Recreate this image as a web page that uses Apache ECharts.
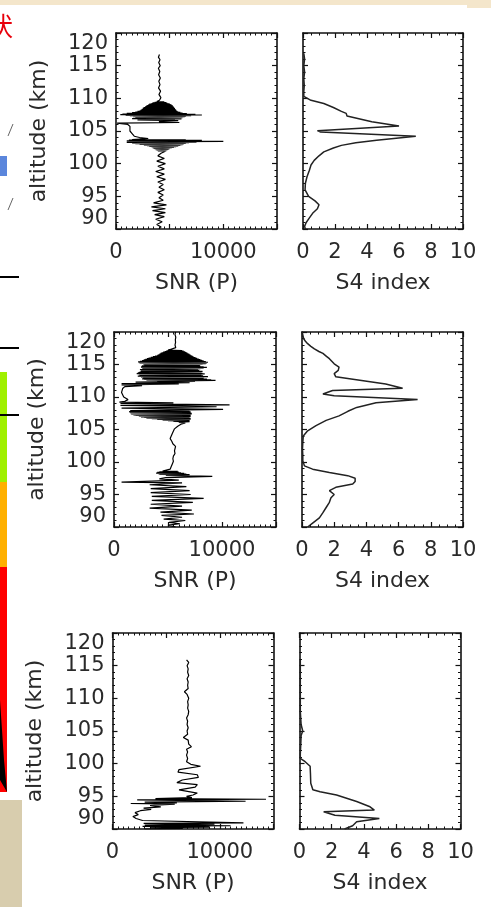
<!DOCTYPE html>
<html><head><meta charset="utf-8">
<script src="https://cdn.jsdelivr.net/npm/echarts@6/dist/echarts.min.js"></script>
<style>html,body{margin:0;padding:0;background:#fff}#c{width:491px;height:907px}</style>
</head><body><div id="c"></div><script>
// ---- tick labels ----
const altRange = [90, 120];
const snrLabelValues = [0, 10000];
const s4LabelValues = [0, 2, 4, 6, 8, 10];
const panelXNames = ['SNR (P)', 'S4 index'];
const yName = 'altitude (km)';

// ---- profiles: [altitude km, value] ----
const p1snr = [[116.7,4050],[116.3,3950],[115.9,4100],[115.5,3980],[115.0,4120],[114.6,3950],[114.1,4080],[113.6,3970],[113.1,4130],[112.6,3990],[112.1,4100],[111.6,3960],[111.1,4150],[110.6,4000],[110.1,4180],[109.7,4050],
[109.5,3800],[109.45,4500],[109.4,3600],[109.35,4700],[109.3,3400],[109.25,4800],[109.2,3300],[109.15,5000],[109.1,3100],[109.05,5100],[109.0,3000],[108.95,5200],[108.9,2900],[108.85,5300],[108.8,2800],[108.75,5300],[108.7,2700],[108.65,5400],[108.6,2600],[108.55,5400],[108.5,2500],[108.45,5500],[108.4,2500],[108.35,5500],[108.3,2400],[108.25,5600],[108.2,2300],[108.15,5600],[108.1,2200],[108.05,5700],[108.0,2000],[107.95,5800],[107.9,1800],[107.85,6000],[107.8,1500],[107.75,6200],[107.7,1000],[107.65,6600],[107.6,600],[107.55,7400],[107.5,400],[107.45,8000],[107.4,900],[107.35,7000],[107.3,1300],[107.25,6500],[107.2,1600],[107.15,6400],[107.1,1800],[107.05,6200],[107.0,2200],[106.95,6000],[106.9,1500],[106.85,6100],[106.8,2500],[106.75,5500],[106.7,2000],[106.6,5800],[106.45,4000],[106.3,5900],[106.2,100],
[106.0,1100],[105.7,1300],[105.4,1200],[105.0,1300],[104.6,1500],[104.2,1700],[104.0,2200],[103.85,3000],
[103.7,1500],[103.65,6500],[103.6,1200],[103.55,8000],[103.5,1000],[103.4,10000],[103.35,1200],[103.3,7500],[103.25,1000],[103.2,6800],[103.15,1500],[103.1,6500],[103.05,1800],[103.0,6300],[102.95,2200],[102.9,6200],[102.85,2600],[102.8,6000],[102.75,2900],[102.7,5800],[102.65,3100],[102.6,5600],[102.55,3300],[102.5,5400],[102.45,3400],[102.4,5200],[102.35,3500],[102.3,5000],[102.25,3600],[102.2,4900],[102.15,3700],[102.1,4800],[102.05,3800],[102.0,4700],[101.95,3900],[101.9,4600],
[101.6,4200],[101.2,3900],[100.8,4500],[100.4,3800],[100.0,4600],[99.6,3900],[99.2,4500],[98.8,3700],[98.4,4500],[98.0,3800],[97.6,4600],[97.2,3900],[96.8,4400],[96.4,4000],[96.0,4500],[95.6,3900],[95.2,4400],[94.8,4000],[94.4,4400],[94.0,3500],[93.7,4700],[93.4,3300],[93.1,4600],[92.8,3400],[92.5,4600],[92.2,3600],[91.9,4500],[91.5,3700],[91.1,4300],[90.7,3800],[90.3,4200],[90.05,4000]];

const p1s4 = [[116.9,0.05],[116.0,0.1],[115.0,0.05],[114.0,0.1],[113.0,0.05],[112.0,0.08],[111.0,0.05],[110.3,0.05],[110.0,0.05],[109.7,0.5],[109.2,1.3],[108.6,1.9],[108.0,2.4],[107.7,2.7],[107.3,2.75],[107.0,2.8],[106.4,4.3],[105.75,6.0],[105.05,0.9],[104.85,1.1],[104.2,7.05],[103.6,4.6],[103.2,3.3],[102.8,2.4],[102.4,1.9],[101.8,1.3],[101.2,1.0],[100.5,0.7],[99.8,0.5],[99.0,0.4],[98.0,0.25],[97.0,0.15],[96.0,0.13],[95.0,0.35],[94.3,0.75],[93.7,1.0],[93.1,0.9],[92.4,0.6],[91.7,0.4],[91.0,0.2],[90.4,0.1],[90.0,0.15]];

const p2snr = [[120.0,5700],[119.6,5650],[119.2,5720],[118.8,5680],[118.4,5700],[118.0,5650],[117.6,5720],[117.3,5700],
[117.2,5000],[117.15,6300],[117.1,4850],[117.05,6450],[117.0,4700],[116.95,6600],[116.9,4550],[116.85,6700],[116.8,4400],[116.75,6800],[116.7,4300],[116.65,6900],[116.6,4200],[116.55,7000],[116.5,4100],[116.45,7100],[116.4,4000],[116.35,7200],[116.3,3800],[116.25,7300],[116.2,3600],[116.15,7400],[116.1,3400],[116.05,7550],[116.0,3200],[115.95,7700],[115.9,3050],[115.85,7850],[115.8,2900],[115.75,8000],[115.7,2750],[115.65,8150],[115.6,2600],[115.55,8300],[115.5,2400],[115.45,8500],[115.4,2230],[115.35,8700],[115.3,2300],[115.25,8600],[115.2,2400],[115.15,8500],[115.1,2700],[115.05,8200],[115.0,3000],[114.95,7900],[114.9,2800],[114.85,7950],[114.8,2600],[114.75,8000],[114.7,2550],[114.65,8300],[114.6,2500],[114.55,8600],[114.5,2650],[114.45,8300],[114.4,2800],[114.35,8000],[114.3,2600],[114.25,7800],[114.2,2400],[114.15,7600],[114.1,2500],[114.05,7900],[114.0,2600],[113.95,8200],[113.9,2450],[113.85,8100],[113.8,2300],[113.75,8000],[113.7,2200],[113.65,8200],[113.6,2100],[113.55,8400],[113.5,2300],[113.45,8100],[113.4,2500],[113.35,7800],[113.3,2350],[113.25,8250],[113.2,2200],[113.15,8700],[113.1,2500],[113.05,8350],[113.0,2800],[112.95,8000],[112.9,2700],[112.85,8300],[112.8,2600],[112.75,8600],[112.7,2800],[112.65,9000],[112.6,3000],[112.55,9400],[112.45,4000],[112.4,7500],[112.3,2000],[112.2,7000],[112.05,700],[112.0,6000],[111.85,700],[111.75,2600],[111.6,1000],[111.3,800],[111.0,850],[110.7,700],[110.4,800],[110.0,900],[109.6,1300],[109.35,1000],
[109.2,500],[109.1,5500],[109.0,600],[108.8,10700],[108.7,600],[108.5,9500],[108.3,700],[108.1,10100],[107.9,1500],
[107.8,7000],[107.75,1400],[107.7,7100],[107.65,1450],[107.6,7100],[107.55,1500],[107.5,7200],[107.45,1550],[107.4,7200],[107.35,1600],[107.3,7100],[107.25,1800],[107.2,7000],[107.15,2000],[107.1,7100],[107.05,2300],[107.0,7100],[106.95,2500],[106.9,7000],[106.85,2800],[106.8,7000],[106.75,3000],[106.7,7100],[106.65,3500],[106.6,7100],[106.55,4000],[106.5,7000],[106.45,4500],[106.4,7000],[106.35,5000],[106.3,7000],[106.25,5500],[106.2,7000],[106.1,6000],[106.0,6600],
[105.8,6200],[105.5,5900],[105.1,5600],[104.8,5500],[104.4,5400],[104.0,5300],[103.6,5200],[103.2,5350],[102.8,5450],[102.4,5700],[102.1,5800],[101.7,5600],[101.3,5650],[100.9,5500],[100.5,5450],[100.1,5500],[99.7,5400],[99.3,5300],[98.9,5200],[98.7,5100],
[98.6,4500],[98.55,5900],[98.5,4200],[98.45,6000],[98.4,4000],[98.35,6200],[98.3,3900],[98.25,6500],[98.2,4100],[98.15,6700],[98.1,4200],[98.05,7000],[97.95,4800],[97.8,9100],[97.6,4800],[97.4,4200],[97.2,6000],[97.05,3500],[96.9,700],[96.8,6300],
[96.5,3300],[96.2,6700],[95.9,3400],[95.6,7000],[95.3,3400],[95.0,7100],[94.7,3500],[94.4,8300],[94.1,3500],[93.8,7300],[93.5,3400],[93.2,6300],[92.9,3300],[92.6,7200],[92.3,4300],[92.0,7400],[91.8,4400],[91.5,6300],[91.2,4600],[91.0,6600],[90.7,5100],[90.5,6100],[90.3,5000],[90.0,5700]];

const p2s4 = [[120.0,0.0],[119.5,0.05],[119.0,0.1],[118.6,0.2],[118.2,0.35],[117.8,0.55],[117.4,0.77],[117.0,1.05],[116.7,1.3],[116.3,1.5],[115.9,1.7],[115.5,1.85],[115.1,2.0],[114.6,2.3],[114.1,2.25],[113.6,2.0],[113.1,2.1],[112.8,2.95],[112.0,5.2],[111.35,6.25],[111.0,1.9],[110.45,1.3],[110.2,2.0],[109.6,7.18],[109.1,4.6],[108.4,3.4],[107.8,2.85],[107.1,2.3],[106.4,1.5],[105.6,0.87],[104.8,0.35],[104.0,0.08],[103.0,0.05],[102.0,0.03],[101.0,0.05],[100.2,0.05],[99.4,0.15],[98.9,0.66],[98.4,1.7],[97.9,2.84],[97.5,3.3],[97.0,3.3],[96.6,3.15],[96.1,2.1],[95.6,1.7],[95.0,2.0],[94.5,1.8],[93.8,1.7],[93.0,1.5],[92.2,1.3],[91.4,1.08],[90.6,0.66],[90.0,0.35]];

const p3snr = [[115.9,6900],[115.5,7100],[115.0,6950],[114.5,7050],[114.0,7000],[113.5,7100],[113.0,6950],[112.5,7050],[112.0,7000],[111.5,7050],[111.0,6700],[110.6,6950],[110.0,7100],[109.5,7000],[109.0,7050],[108.5,7000],[108.0,7100],[107.5,7050],[107.0,6900],[106.5,7000],[106.0,6950],[105.5,7050],[105.0,6950],[104.5,7000],[104.0,6600],[103.6,7050],[103.0,7100],[102.6,7350],[102.2,6900],[101.8,7000],[101.3,6900],[100.8,7000],[100.3,6900],
[99.9,7300],[99.6,8200],[99.1,6200],[98.7,6100],[98.3,7900],[97.9,8000],[97.5,6500],[97.1,6000],[96.8,7900],[96.4,7700],[96.0,6200],[95.8,6300],[95.5,7900],[95.2,7500],[95.0,6900],[94.8,7400],[94.65,4000],[94.55,14300],[94.45,2300],[94.35,8000],[94.25,12400],[94.1,3000],[94.0,6000],[93.9,1700],[93.8,5800],[93.6,3500],[93.4,4500],[93.2,2900],[93.0,3600],[92.8,2600],[92.5,2100],[92.2,2400],[91.9,1900],[91.6,2200],[91.3,2800],[91.1,2900],[90.95,12200],[90.85,2900],[90.75,9500],[90.6,3000],[90.5,11000],[90.4,2800],[90.3,9000],[90.2,3500],[90.1,6500],[90.0,3000]];

const p3s4 = [[115.9,0.05],[114.0,0.05],[112.0,0.05],[110.0,0.05],[108.0,0.05],[106.0,0.1],[105.0,0.2],[104.3,0.1],[103.0,0.08],[101.5,0.05],[100.8,0.05],[100.3,0.35],[99.6,0.66],[98.5,0.68],[97.0,0.7],[96.0,0.83],[95.7,1.28],[95.2,2.3],[94.2,3.55],[93.4,4.38],[92.9,4.65],[92.65,1.5],[92.4,1.4],[92.1,2.2],[91.6,4.96],[91.1,3.55],[90.5,3.3],[90.0,2.8]];

const profiles = [p1snr, p1s4, p2snr, p2s4, p3snr, p3s4];

// ---- layout ----
const grids = [
  {left:116, top:33, width:161, height:196},
  {left:303, top:33, width:160, height:196},
  {left:114, top:332, width:162, height:195},
  {left:302, top:332, width:161, height:195},
  {left:112.5, top:633, width:161, height:196},
  {left:299.5, top:633, width:161, height:196}
];
const FONT = 'DejaVu Sans';
const TXT = '#2a2a2a';
const lineC = '#111';

const xAxes = [], yAxes = [], series = [];
grids.forEach((g, i) => {
  const isSNR = i % 2 === 0;
  const xBase = isSNR
    ? {min:0, max:15000, interval:5000, minorSplit:10}
    : {min:0, max:10, interval:2, minorSplit:4};
  const common = {
    type:'value', gridIndex:i, min:xBase.min, max:xBase.max, interval:xBase.interval,
    axisLine:{show:true, onZero:false, lineStyle:{color:lineC, width:1.6}},
    axisTick:{show:true, inside:true, length:5, lineStyle:{color:lineC, width:1.2}},
    minorTick:{show:true, splitNumber:xBase.minorSplit, length:2.5, lineStyle:{color:lineC, width:1}},
    splitLine:{show:false}
  };
  xAxes.push(Object.assign({}, common, {
    position:'bottom',
    name: isSNR ? panelXNames[0] : panelXNames[1],
    nameLocation:'middle', nameGap:43,
    nameTextStyle:{fontFamily:FONT, fontSize:22, color:TXT},
    axisLabel:{show:true, margin:13, fontFamily:FONT, fontSize:21, color:TXT,
      showMaxLabel:true,
      formatter: v => {
        const list = isSNR ? snrLabelValues : s4LabelValues;
        return list.indexOf(v) >= 0 ? String(v) : '';
      }}
  }));
  xAxes.push(Object.assign({}, common, {position:'top', axisLabel:{show:false}}));
  const ycommon = {
    type:'value', gridIndex:i, min:altRange[0], max:altRange[1], interval:5,
    axisLine:{show:true, onZero:false, lineStyle:{color:lineC, width:1.6}},
    axisTick:{show:true, inside:true, length:5, lineStyle:{color:lineC, width:1.2}},
    minorTick:{show:true, splitNumber:5, length:2.5, lineStyle:{color:lineC, width:1}},
    splitLine:{show:false}
  };
  yAxes.push(Object.assign({}, ycommon, {
    position:'left',
    name: isSNR ? yName : '',
    nameLocation:'middle', nameGap:66,
    nameTextStyle:{fontFamily:FONT, fontSize:22, color:TXT},
    axisLabel:{show:isSNR, margin:8, fontFamily:FONT, fontSize:21, color:TXT,
      verticalAlignMaxLabel:'top', verticalAlignMinLabel:'bottom'}
  }));
  yAxes.push(Object.assign({}, ycommon, {position:'right', axisLabel:{show:false}}));
  series.push({
    type:'line', xAxisIndex:2*i, yAxisIndex:2*i, showSymbol:false, symbol:'none',
    clip:true, animation:false,
    lineStyle:{color: isSNR ? '#000' : '#222', width: isSNR ? 1.2 : 1.5},
    data: profiles[i].map(p => [p[1], p[0]])
  });
});

// ---- slide remnants around the figure ----
const deco = [
  {type:'rect', shape:{x:0,y:0,width:491,height:5}, style:{fill:'#f4e6cb'}, silent:true},
  {type:'rect', shape:{x:467,y:0,width:24,height:8}, style:{fill:'#f4e6cb'}, silent:true},
  {type:'text', x:-13, y:13, style:{text:'状', fontSize:26, fontFamily:'Noto Sans CJK SC', fill:'#e8000b'}, silent:true},
  {type:'line', shape:{x1:8,y1:136,x2:13,y2:124}, style:{stroke:'#666', lineWidth:1}, silent:true},
  {type:'line', shape:{x1:8,y1:210,x2:13,y2:198}, style:{stroke:'#666', lineWidth:1}, silent:true},
  {type:'rect', shape:{x:0,y:156,width:7,height:20}, style:{fill:'#5b86dc'}, silent:true},
  {type:'rect', shape:{x:0,y:276,width:19,height:2}, style:{fill:'#000'}, silent:true},
  {type:'rect', shape:{x:0,y:347,width:19,height:2}, style:{fill:'#000'}, silent:true},
  {type:'rect', shape:{x:0,y:372,width:7,height:110}, style:{fill:'#9ff000'}, silent:true},
  {type:'rect', shape:{x:0,y:414,width:19,height:2}, style:{fill:'#000'}, silent:true},
  {type:'rect', shape:{x:0,y:482,width:7,height:85}, style:{fill:'#ffb000'}, silent:true},
  {type:'rect', shape:{x:0,y:567,width:7,height:225}, style:{fill:'#ff0000'}, silent:true},
  {type:'polygon', shape:{points:[[0,700],[4,760],[7,792],[0,780]]}, style:{fill:'#000'}, silent:true},
  {type:'rect', shape:{x:0,y:800,width:22,height:107}, style:{fill:'#d8cdae'}, silent:true}
];

const chart = echarts.init(document.getElementById('c'), null, {renderer:'canvas'});
chart.setOption({
  animation:false,
  backgroundColor:'#ffffff',
  grid: grids,
  xAxis: xAxes,
  yAxis: yAxes,
  series: series,
  graphic: deco
});
</script></body></html>
